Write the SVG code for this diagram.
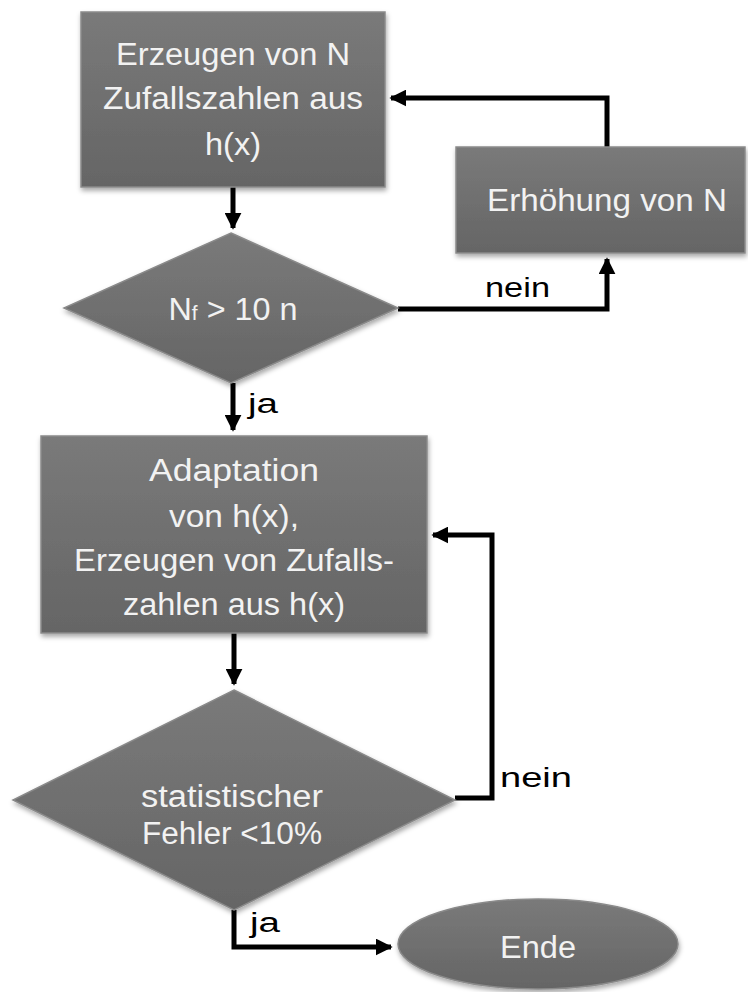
<svg xmlns="http://www.w3.org/2000/svg" width="748" height="992" viewBox="0 0 748 992">
<defs>
<linearGradient id="g" x1="0" y1="0" x2="0" y2="1">
<stop offset="0" stop-color="#7a7a7a"/>
<stop offset="1" stop-color="#656565"/>
</linearGradient>
<filter id="sh" x="-10%" y="-10%" width="120%" height="125%">
<feDropShadow dx="1" dy="3" stdDeviation="2.5" flood-color="#000" flood-opacity="0.35"/>
</filter>
<marker id="ah" viewBox="0 0 10 10" refX="9" refY="5" markerWidth="3.4" markerHeight="3.4" orient="auto" markerUnits="strokeWidth">
<path d="M0,0 L10,5 L0,10 z" fill="#000"/>
</marker>
<style>
.shape{fill:url(#g);stroke:#8a8a8a;stroke-width:1.5;filter:url(#sh)}
.t{font-family:"Liberation Sans",Arial,sans-serif;font-size:31px;fill:#f2f2f2;text-anchor:middle}
.lbl{font-family:"Liberation Sans",Arial,sans-serif;font-size:27px;fill:#000}
.c{fill:none;stroke:#000;stroke-width:5;stroke-linejoin:miter}
</style>
</defs>
<rect width="748" height="992" fill="#fff"/>
<g id="connectors">
<path class="c" d="M233,187 V228" marker-end="url(#ah)"/>
<path class="c" d="M607,147 V98 H391" marker-end="url(#ah)"/>
<path class="c" d="M398,309 H607 V259" marker-end="url(#ah)"/>
<path class="c" d="M233,383 V430" marker-end="url(#ah)"/>
<path class="c" d="M234,633 V684" marker-end="url(#ah)"/>
<path class="c" d="M455,798 H492 V535 H433" marker-end="url(#ah)"/>
<path class="c" d="M234,910 V947 H391" marker-end="url(#ah)"/>
<text class="lbl" x="485" y="297" textLength="65" lengthAdjust="spacingAndGlyphs">nein</text>
<text class="lbl" x="248" y="413" textLength="30" lengthAdjust="spacingAndGlyphs">ja</text>
<text class="lbl" x="500" y="787" textLength="72" lengthAdjust="spacingAndGlyphs">nein</text>
<text class="lbl" x="250" y="932" textLength="30" lengthAdjust="spacingAndGlyphs">ja</text>
</g>
<g id="n1">
<rect class="shape" x="81" y="12" width="304" height="175"/>
<text class="t" x="233" y="65" textLength="234" lengthAdjust="spacingAndGlyphs">Erzeugen von N</text>
<text class="t" x="233" y="109" textLength="260" lengthAdjust="spacingAndGlyphs">Zufallszahlen aus</text>
<text class="t" x="233" y="155" textLength="56" lengthAdjust="spacingAndGlyphs">h(x)</text>
</g>
<g id="n2">
<rect class="shape" x="456" y="147" width="289" height="106"/>
<text class="t" x="607" y="211" textLength="240" lengthAdjust="spacingAndGlyphs">Erhöhung von N</text>
</g>
<g id="n3">
<polygon class="shape" points="231,233 398,308 231,383 64,308"/>
<text class="t" x="233" y="320" textLength="129" lengthAdjust="spacingAndGlyphs">N<tspan font-size="20">f</tspan> &gt; 10 n</text>
</g>
<g id="n4">
<rect class="shape" x="41" y="436" width="386" height="197"/>
<text class="t" x="234" y="481" textLength="170" lengthAdjust="spacingAndGlyphs">Adaptation</text>
<text class="t" x="234" y="527" textLength="130" lengthAdjust="spacingAndGlyphs">von h(x),</text>
<text class="t" x="234" y="571" textLength="320" lengthAdjust="spacingAndGlyphs">Erzeugen von Zufalls-</text>
<text class="t" x="234" y="615" textLength="222" lengthAdjust="spacingAndGlyphs">zahlen aus h(x)</text>
</g>
<g id="n5">
<polygon class="shape" points="234,690 455,800 234,910 13,800"/>
<text class="t" x="232" y="807" textLength="182" lengthAdjust="spacingAndGlyphs">statistischer</text>
<text class="t" x="232" y="844" textLength="180" lengthAdjust="spacingAndGlyphs">Fehler &lt;10%</text>
</g>
<g id="n6">
<ellipse class="shape" cx="538" cy="944" rx="140" ry="45"/>
<text class="t" x="538" y="958" textLength="76" lengthAdjust="spacingAndGlyphs">Ende</text>
</g>
</svg>
